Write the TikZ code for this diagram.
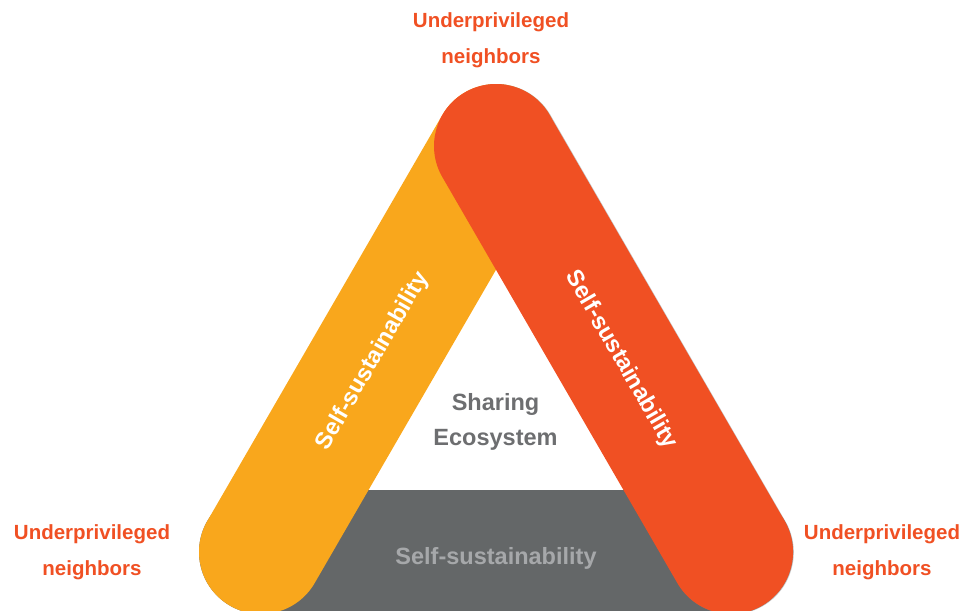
\documentclass[tikz,border=0pt]{standalone}
\usepackage{fontspec}
\setmainfont{Liberation Sans}
\usetikzlibrary{calc}
\definecolor{cred}{HTML}{F05023}
\definecolor{cyel}{HTML}{F9A71C}
\definecolor{cgray}{HTML}{646768}
\definecolor{cgtext}{HTML}{A6A8AA}
\definecolor{cctext}{HTML}{6D6E70}
\tikzset{
  bar/.style={line width=124pt, line cap=round},
  corner/.style={text=cred, align=center, font=\fontsize{20.5}{36}\selectfont\bfseries},
  bartext/.style={font=\fontsize{23.5}{28}\selectfont\bfseries},
}
\begin{document}
\begin{tikzpicture}[x=1pt,y=-1pt]
\useasboundingbox (0,0) rectangle (963,610);
\clip (0,0) rectangle (963,610);
\coordinate (T) at (496,146);
\coordinate (L) at (261,552);
\coordinate (R) at (731,552);
% bars
\draw[bar, cgray] (L) -- (R);
\draw[bar, cyel] (L) -- (T);
\draw[bar, black!45, opacity=0.5] ($(T)+(0.8,0)$) -- ($(R)+(0.8,0.4)$);
\draw[bar, cred] (T) -- (R);
% bar labels
\node[bartext, text=white, rotate=60] (ly) at (373,361) {Self-sustainability};
\node[bartext, text=white, rotate=-60] (lr) at (621,360) {Self-sustainability};
\node[bartext, text=cgtext] (lg) at (496,558) {Self-sustainability};
% center
\node[bartext, text=cctext, align=center, font=\fontsize{23.5}{35}\selectfont\bfseries] (c) at (495.5,421.5) {Sharing\\Ecosystem};
% corners
\node[corner] (ct) at (491,40) {Underprivileged\\neighbors};
\node[corner] (cl) at (92,552) {Underprivileged\\neighbors};
\node[corner] (cr) at (882,552) {Underprivileged\\neighbors};
\end{tikzpicture}
\end{document}
